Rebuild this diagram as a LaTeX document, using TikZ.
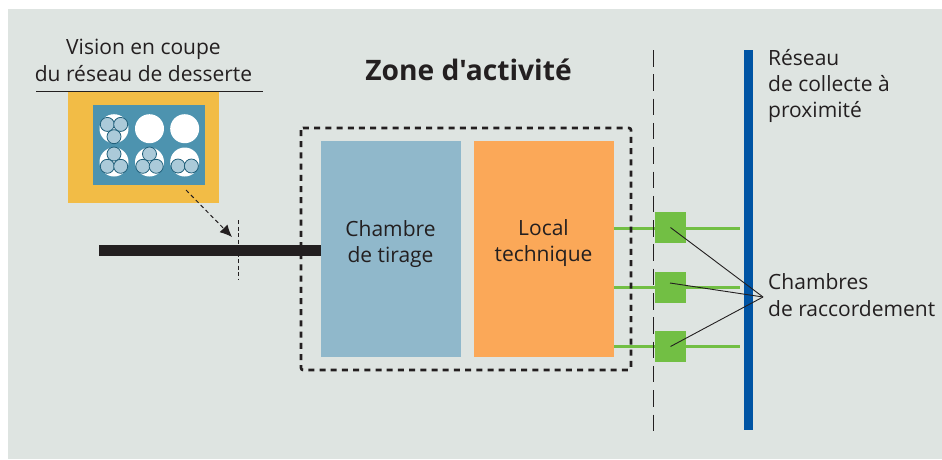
\documentclass[tikz,border=0pt]{standalone}
\usepackage{fontspec}
\setmainfont{Open Sans}
\newfontfamily\zonefont{Open Sans}
\usetikzlibrary{arrows.meta}
\definecolor{bgc}{HTML}{DEE4E1}
\definecolor{goldc}{HTML}{F2BC46}
\definecolor{tealc}{HTML}{4D93AF}
\definecolor{paleb}{HTML}{90B8CB}
\definecolor{orangec}{HTML}{FBA858}
\definecolor{greenc}{HTML}{72BF44}
\definecolor{navyc}{HTML}{0054A4}
\definecolor{inkc}{HTML}{231F20}
\definecolor{cablef}{HTML}{ABCAD9}
\definecolor{cablee}{HTML}{1F5F7A}
\tikzset{
  x=1pt,y=-1pt,
  box/.style={inner sep=0pt,outer sep=0pt,minimum width=#1},
  chambre/.style={fill=greenc,inner sep=0pt,outer sep=0pt,minimum width=31pt,minimum height=31pt},
  gaine/.style={circle,fill=white,inner sep=0pt,outer sep=0pt,minimum size=29pt},
  cable/.style={circle,fill=cablef,draw=cablee,line width=0.8pt,inner sep=0pt,minimum size=14pt},
  label/.style={text=inkc,font=\fontsize{21}{26.5}\selectfont,align=left,inner sep=0pt},
  pointer/.style={draw=inkc,line width=0.9pt},
  fibre/.style={draw=greenc,line width=3pt}
}
\begin{document}
\begin{tikzpicture}
\useasboundingbox (0,0) rectangle (942,459);
\fill[bgc] (8,9) rectangle (942,459);
% section box
\node[fill=goldc,box=151pt,minimum height=112pt,anchor=north west] (coupe) at (68,91) {};
\node[fill=tealc,box=112pt,minimum height=80pt,anchor=north west] (tube) at (93,105) {};
\foreach \n/\cx/\cy in {a/114/128.7,b/149.5/128.7,c/184.7/128.7,d/114/162,e/149.5/162,f/184.7/162}
  \node[gaine] (g\n) at (\cx,\cy) {};
\node[cable] at ([shift={(-6.7,-4.3)}]ga.center) {};
\node[cable] at ([shift={(6.7,-4.3)}]ga.center) {};
\node[cable] at ([shift={(0,8)}]ga.center) {};
\node[cable] at ([shift={(0,-8)}]gd.center) {};
\node[cable] at ([shift={(-6.7,4.3)}]gd.center) {};
\node[cable] at ([shift={(6.7,4.3)}]gd.center) {};
\node[cable] at ([shift={(0,-8)}]ge.center) {};
\node[cable] at ([shift={(-6.7,4.3)}]ge.center) {};
\node[cable] at ([shift={(6.7,4.3)}]ge.center) {};
\node[cable] at ([shift={(-6.7,4)}]gf.center) {};
\node[cable] at ([shift={(6.7,4)}]gf.center) {};
% title rule
\coordinate (ruleL) at (36,91);
\coordinate (ruleR) at (263,91);
\draw[inkc,line width=1pt] (ruleL) -- (ruleR);
\node[label,align=center,anchor=base] (vision) at (143.5,81) {Vision en coupe\\du réseau de desserte};
% main boxes
\node[fill=paleb,box=140pt,minimum height=216pt,anchor=north west] (tirage) at (321,141) {};
\node[label,align=center] at (390.5,244) {Chambre\\de tirage};
\node[fill=orangec,box=140pt,minimum height=216pt,anchor=north west] (local) at (474,141) {};
\node[label,align=center] at (543.5,243) {Local\\technique};
% black bar
\coordinate (barL) at (99,250.5);
\draw[inkc,line width=11pt] (barL) -- (barL -| tirage.west);
% cut line and arrow
\coordinate (cutT) at (238.5,220);
\coordinate (cutB) at (238.5,280);
\draw[inkc,line width=0.9pt,dash pattern=on 4pt off 2.5pt] (cutT) -- (cutB);
\coordinate (arrS) at (186,190);
\coordinate (arrE) at (232,237);
\draw[inkc,line width=1pt,dash pattern=on 4pt off 3pt,-{Latex[length=12pt,width=11pt]}] (arrS) -- (arrE);
% green squares and lines
\coordinate (gA) at (740,228);
\coordinate (gB) at (740,287);
\coordinate (gC) at (740,346);
\draw[fibre] (gA -| local.east) -- (gA);
\draw[fibre] (gB -| local.east) -- (gB);
\draw[fibre] (gC -| local.east) -- (gC);
% dashed zone
\draw[inkc,line width=2.6pt,dash pattern=on 6pt off 5.2pt,rounded corners=2pt] (301,128) rectangle (631,370);
% dashed boundary
\coordinate (limT) at (653.5,50);
\coordinate (limB) at (653.5,431);
\draw[inkc,line width=1.1pt,dash pattern=on 16.5pt off 7.8pt] (limT) -- (limB);
\node[chambre,anchor=north west] (ca) at (655,212) {};
\node[chambre,anchor=north west] (cb) at (655,272) {};
\node[chambre,anchor=north west] (cc) at (655,331) {};
% collector
\coordinate (colT) at (748.5,50);
\coordinate (colB) at (748.5,430);
\draw[navyc,line width=9pt] (colT) -- (colB);
% pointers
\coordinate (hub) at (763,297);
\coordinate (pb) at (670,283);
\draw[pointer] (ca.center) -- (hub);
\draw[pointer] (pb) -- (hub);
\draw[pointer] (cc.center) -- (hub);
% labels
\node[font=\fontsize{28.2}{34}\zonefont\bfseries,text=inkc,inner sep=0pt,anchor=base] (zone) at (468.5,80) {Zone d'activité};
\node[label,anchor=base west] (reseau) at (768,65) {Réseau};
\node[label,anchor=base west] (collecte) at (768,91) {de collecte à};
\node[label,anchor=base west] (prox) at (768,117) {proximité};
\node[label,anchor=base west] (ch1) at (768,289) {Chambres};
\node[label,anchor=base west] (ch2) at (768,316) {de raccordement};
\end{tikzpicture}
\end{document}
